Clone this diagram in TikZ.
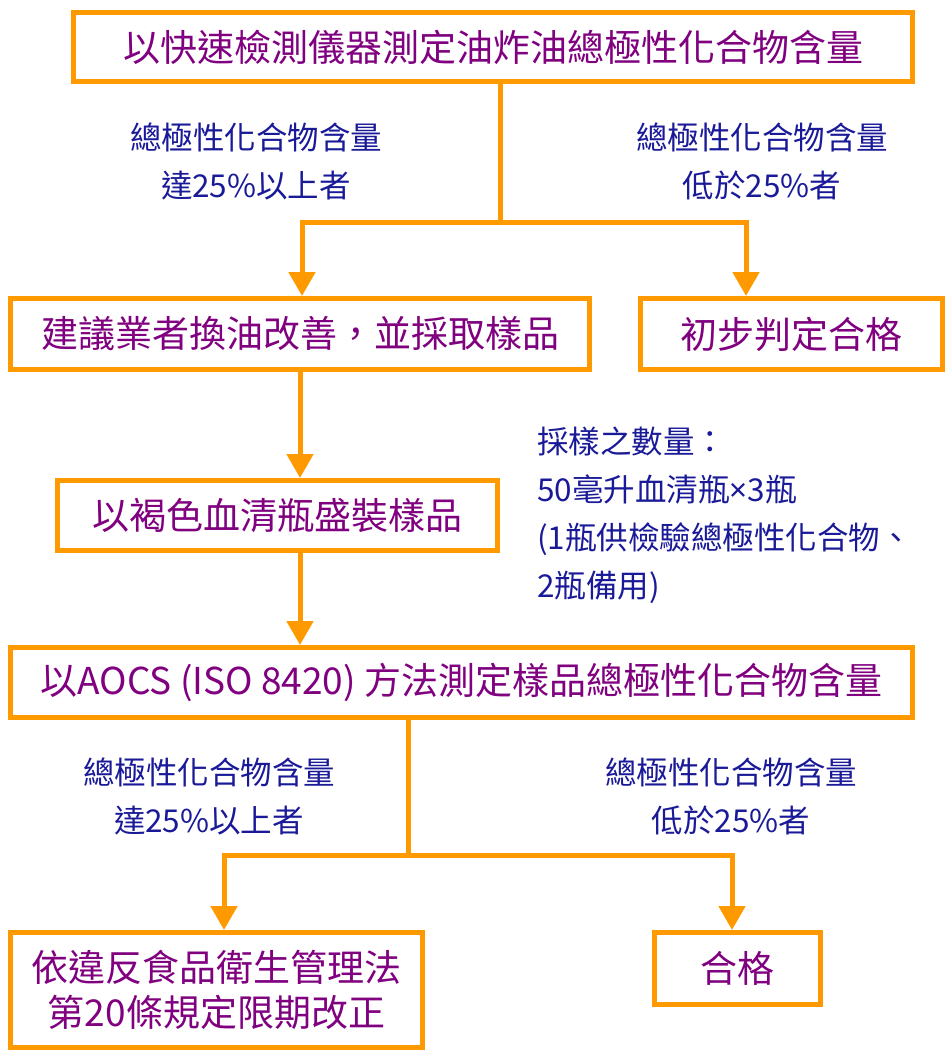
\documentclass[tikz,border=0pt]{standalone}
\usepackage{fontspec}
\newfontfamily\cjk{Noto Sans CJK TC}
\newfontfamily\latinsans{Noto Sans}
\usetikzlibrary{arrows.meta}
\definecolor{flow}{HTML}{FF9900}
\definecolor{boxtxt}{HTML}{800080}
\definecolor{lbltxt}{HTML}{1A1A99}
\tikzset{
  box/.style={draw=flow, line width=5pt, fill=white, text=boxtxt, inner sep=0pt,
    font=\cjk\fontsize{37}{45}\selectfont, align=center},
  lbl/.style={text=lbltxt, inner sep=0pt, font=\cjk\fontsize{31.5}{48}\selectfont, align=center},
  conn/.style={draw=flow, line width=5pt},
  arr/.style={conn, -{Triangle[width=26pt,length=24pt]}}
}
\begin{document}
\begin{tikzpicture}[x=1pt,y=-1pt]
\useasboundingbox (0,0) rectangle (947,1052);
\node[box, minimum width=839pt, minimum height=69pt] (b1) at (493,47) {以快速檢測儀器測定油炸油總極性化合物含量};
\node[box, minimum width=579pt, minimum height=71pt] (b2) at (300,334) {建議業者換油改善，並採取樣品};
\node[box, minimum width=302pt, minimum height=71pt] (b3) at (791.5,334) {初步判定合格};
\node[box, minimum width=440pt, minimum height=70pt] (b4) at (277.5,515.5) {以褐色血清瓶盛裝樣品};
\node[box, minimum width=902pt, minimum height=70pt] (b5) at (461.5,682.5) {以AOCS (ISO 8420) 方法測定樣品總極性化合物含量};
\node[box, minimum width=412pt, minimum height=115pt] (b6) at (216.5,990) {依違反食品衛生管理法\\第20條規定限期改正};
\node[box, minimum width=166pt, minimum height=72pt] (b7) at (737.5,968.5) {合格};

\node[lbl] (l1) at (256,161) {總極性化合物含量\\達25\%以上者};
\node[lbl] (l2) at (762,161) {總極性化合物含量\\低於25\%者};
\node[lbl] (l3) at (209,796) {總極性化合物含量\\達25\%以上者};
\node[lbl] (l4) at (731,796) {總極性化合物含量\\低於25\%者};
\node[lbl, align=left, anchor=west] (note) at (537,515.5) {採樣之數量：\\50毫升血清瓶{\latinsans ×}3瓶\\(1瓶供檢驗總極性化合物、\\2瓶備用)};

\coordinate (j1) at (500,222);
\coordinate (x2) at (302,0);
\coordinate (x3) at (746,0);
\coordinate (j2) at (408,855);
\coordinate (x6) at (224,0);
\coordinate (x7) at (732,0);
\coordinate (x4) at (300,0);

\draw[conn] (b1.south -| j1) -- (j1);
\draw[arr] (j1) -| (b2.north -| x2);
\draw[arr] (j1) -| (b3.north -| x3);
\draw[arr] (b2.south -| x4) -- (b4.north -| x4);
\draw[arr] (b4.south -| x4) -- (b5.north -| x4);
\draw[conn] (b5.south -| j2) -- (j2);
\draw[arr] (j2) -| (b6.north -| x6);
\draw[arr] (j2) -| (b7.north -| x7);
\end{tikzpicture}
\end{document}
